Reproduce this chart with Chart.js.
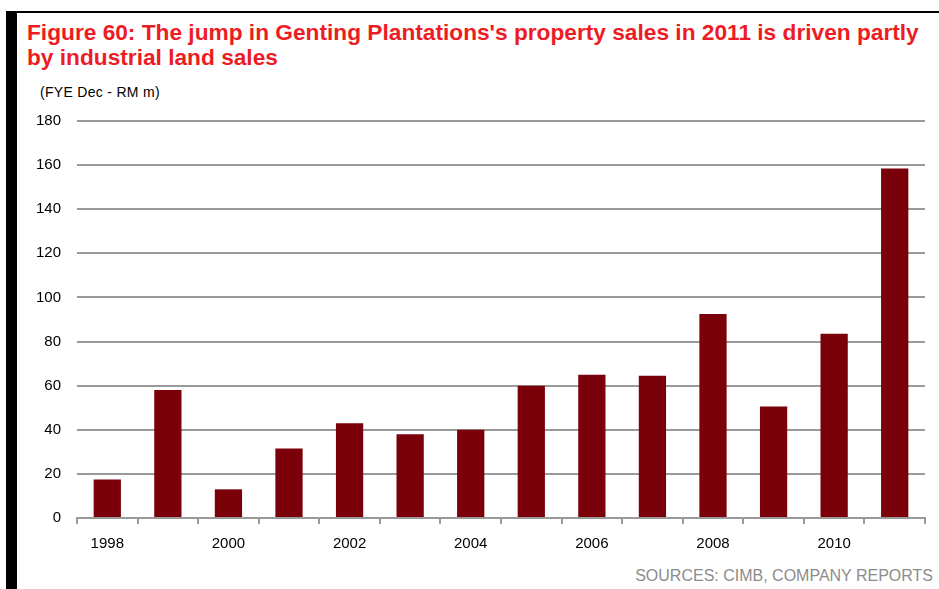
<!DOCTYPE html>
<html><head><meta charset="utf-8">
<script src="https://cdn.jsdelivr.net/npm/chart.js@4/dist/chart.umd.min.js"></script>
<style>
html,body{margin:0;padding:0;background:#fff;width:939px;height:589px;overflow:hidden;font-family:"Liberation Sans",Arial,sans-serif;}
#leftbar{position:absolute;left:6px;top:11px;width:11px;height:578px;background:#000;}
#topline{position:absolute;left:17px;top:11px;width:922px;height:2px;background:#000;}
#title{position:absolute;left:27px;top:20px;color:#ED1C24;font-weight:bold;font-size:22.7px;line-height:25px;white-space:nowrap;}
#unit{position:absolute;left:40px;top:84px;font-size:14px;color:#000;letter-spacing:0.3px;}
#source{position:absolute;right:6px;top:567px;font-size:16px;color:#8c8c8c;}
#c{position:absolute;left:0;top:0;}
</style></head><body>
<div id="leftbar"></div><div id="topline"></div>
<div id="title">Figure 60: The jump in Genting Plantations's property sales in 2011 is driven partly<br>by industrial land sales</div>
<div id="unit">(FYE Dec - RM m)</div>
<div id="source">SOURCES: CIMB, COMPANY REPORTS</div>
<canvas id="c" width="939" height="589"></canvas>
<script>
const years = ["1998","1999","2000","2001","2002","2003","2004","2005","2006","2007","2008","2009","2010","2011"];
const propertySales = [17.5,58,13,31.5,43,38,40,60,65,64.5,92.5,50.5,83.5,158.5];
const yTicks = [0,20,40,60,80,100,120,140,160,180];

new Chart(document.getElementById('c'), {
  type: 'bar',
  data: { labels: years, datasets: [{ data: propertySales, backgroundColor: '#7a0009', barPercentage: 0.45, categoryPercentage: 1.0 }] },
  options: {
    responsive: false, animation: false,
    layout: { padding: { left: 20, top: 121, right: 14, bottom: 0 } },
    plugins: { legend: { display: false }, tooltip: { enabled: false } },
    scales: {
      y: {
        min: 0, max: 180,
        afterBuildTicks: s => { s.ticks = yTicks.map(v => ({ value: v })); },
        afterFit: s => { s.width = 57; },
        grid: { color: '#9a9a9a', lineWidth: 2, drawTicks: false },
        border: { display: false },
        ticks: { padding: 16, color: '#000', font: { family: '"Liberation Sans", Arial, sans-serif', size: 15 } }
      },
      x: {
        afterFit: s => { s.height = 71; },
        grid: { offset: true, drawOnChartArea: false, drawTicks: true, tickLength: 6, color: '#9a9a9a', lineWidth: 2 },
        border: { display: true, color: '#9a9a9a', width: 2 },
        ticks: { autoSkip: false, maxRotation: 0, padding: 11, color: '#000', font: { family: '"Liberation Sans", Arial, sans-serif', size: 15 },
          callback: function(v, i) { return i % 2 === 0 ? years[i] : ''; } }
      }
    }
  }
});
</script>
</body></html>
